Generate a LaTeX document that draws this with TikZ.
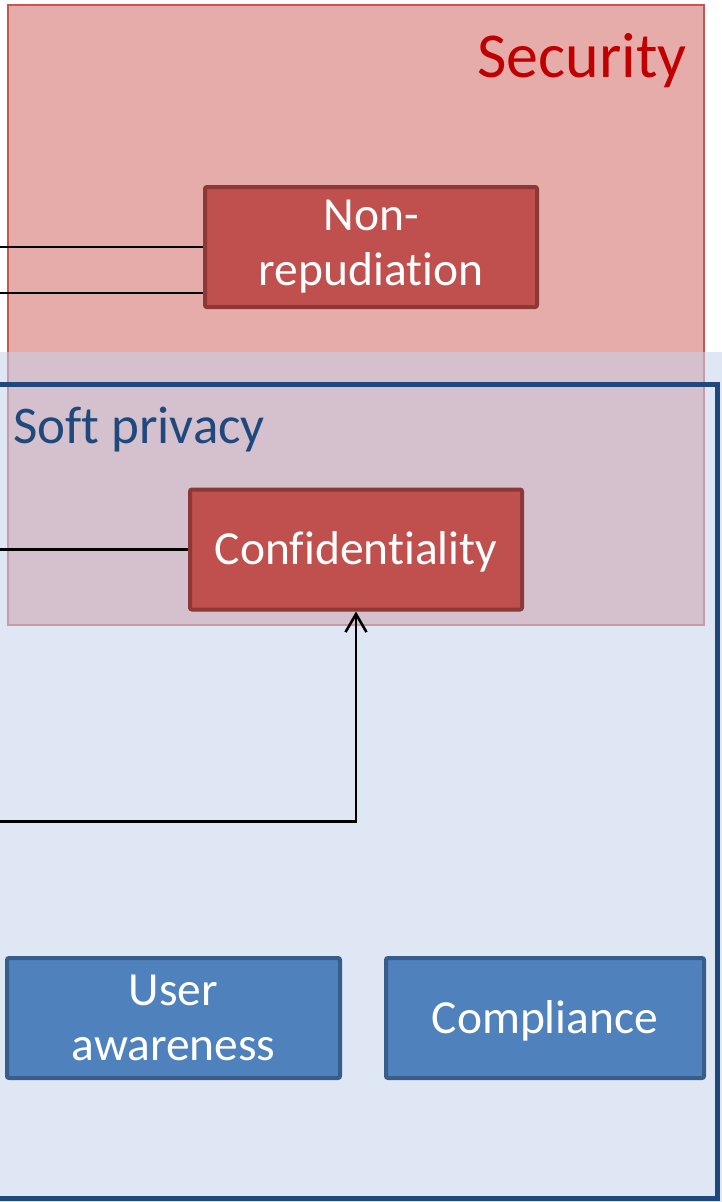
\documentclass[tikz,border=0pt]{standalone}
\usepackage{fontspec}
\setmainfont{Carlito}[Ligatures=NoCommon]
\usetikzlibrary{arrows.meta}
\definecolor{secfill}{RGB}{230,172,169}
\definecolor{secline}{RGB}{200,85,82}
\definecolor{sectext}{RGB}{192,0,0}
\definecolor{privfill}{RGB}{198,212,236}
\definecolor{privline}{RGB}{31,73,125}
\definecolor{redbox}{RGB}{192,80,77}
\definecolor{rededge}{RGB}{140,56,54}
\definecolor{bluebox}{RGB}{79,129,189}
\definecolor{blueedge}{RGB}{56,93,138}
\tikzset{
  boxfont/.style={font=\fontsize{47.5}{55}\selectfont, text=white, align=center},
  redblock/.style={boxfont, draw=rededge, fill=redbox, line width=4pt, rounded corners=2pt,
    minimum width=332pt, minimum height=120pt, inner sep=0pt},
  blueblock/.style={boxfont, draw=blueedge, fill=bluebox, line width=4pt, rounded corners=2pt,
    minimum height=120pt, inner sep=0pt},
  link/.style={draw=black, line width=2.6pt},
  linkarrow/.style={link, -{Straight Barb[length=18pt,width=21pt,line width=2.6pt]}},
}
\begin{document}
\begin{tikzpicture}[x=1pt,y=-1pt]
  \useasboundingbox (0,0) rectangle (722,1202);
  \fill[white] (0,0) rectangle (722,1202);

  % Security area
  \draw[fill=secfill, draw=secline, line width=1.5pt] (8,5) rectangle (704,625);
  \node[anchor=base east, text=sectext, font=\fontsize{64}{70}\selectfont] (sectitle) at (690,77) {Security};

  % Soft privacy area, laid over the security area
  \fill[privfill, fill opacity=0.55] (0,352) rectangle (722,1202);
  \draw[privline, line width=5pt] (-10,384) -- (717,384) -- (717,1198) -- (-10,1198);
  \node[anchor=base west, text=privline, font=\fontsize{53}{58}\selectfont, inner sep=0pt] (privtitle) at (13,443) {Soft privacy};

  % Blocks
  \node[redblock] (nonrep) at (371,247) {Non-\\repudiation};
  \node[redblock, text depth=3pt] (conf) at (356,549.5) {Confidentiality};
  \node[blueblock, minimum width=333pt] (aware) at (173.5,1018) {User\\awareness};
  \node[blueblock, minimum width=318pt, text depth=3pt] (compl) at (545,1018) {Compliance};

  % Incoming connectors from the left
  \coordinate (in1) at (0,247);
  \coordinate (in2) at (0,293);
  \coordinate (in3) at (0,549.5);
  \coordinate (in4) at (0,821.5);
  \draw[link] (in1) -- (in1 -| nonrep.west);
  \draw[link] (in2) -- (in2 -| nonrep.west);
  \draw[link] (in3) -- (in3 -| conf.west);
  \draw[linkarrow] (in4) -| (conf.south);
\end{tikzpicture}
\end{document}
